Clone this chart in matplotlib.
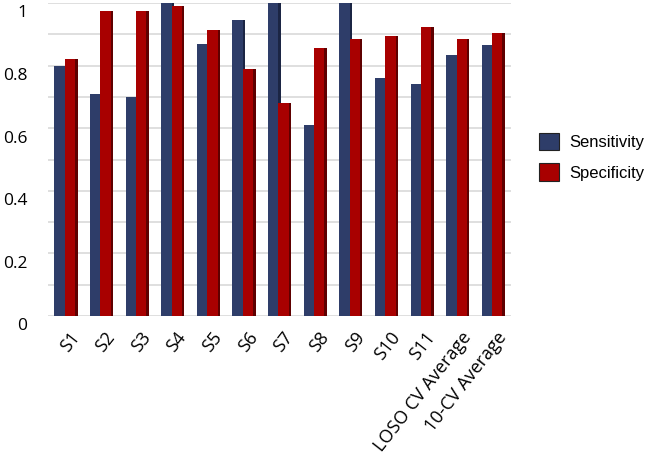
import matplotlib.pyplot as plt
import matplotlib.transforms as mtransforms
import numpy as np

# datos
categorias = ["S1", "S2", "S3", "S4", "S5", "S6", "S7", "S8", "S9", "S10", "S11",
              "LOSO CV Average", "10-CV Average"]
sensibilidad = [0.80, 0.71, 0.70, 1.00, 0.87, 0.945, 1.00, 0.61, 1.00, 0.76, 0.74, 0.835, 0.865]
especificidad = [0.82, 0.974, 0.974, 0.99, 0.915, 0.79, 0.68, 0.855, 0.885, 0.894, 0.923, 0.885, 0.904]

azul, azul_osc = "#2E3D69", "#1B2544"
rojo, rojo_osc = "#A80000", "#5E0000"

fig = plt.figure(figsize=(6.54, 4.65), dpi=100)
ax = fig.add_axes([48 / 654, (465 - 316) / 465, (511 - 48) / 654, 313 / 465])

x = np.arange(len(categorias))
w = 0.29
prof = 0.07  # "profundidad" falsa de las barras 3D

ax.bar(x - w / 2 + prof, sensibilidad, w, color=azul_osc, zorder=2)
ax.bar(x - w / 2, sensibilidad, w, color=azul, zorder=3)
ax.bar(x + w / 2 + prof, especificidad, w, color=rojo_osc, zorder=2)
ax.bar(x + w / 2, especificidad, w, color=rojo, zorder=3)

ax.set_xlim(-0.5 + 0.03, len(categorias) - 0.5 + 0.03)
ax.set_ylim(0, 1.0)
ax.set_yticks(np.arange(0, 1.01, 0.2))
ax.set_yticklabels(["0", "0.2", "0.4", "0.6", "0.8", "1"])
ax.set_yticks(np.arange(0, 1.01, 0.1), minor=True)
ax.grid(True, which="both", axis="y", color="#D9D9D9", linewidth=1.2, zorder=0)
ax.tick_params(axis="y", which="both", length=0, pad=15, labelsize=12.5)
for lab in ax.get_yticklabels():
    lab.set_fontfamily("Open Sans")
    lab.set_transform(lab.get_transform() + mtransforms.ScaledTranslation(0, -6 / 72, fig.dpi_scale_trans))

ax.set_xticks(x + 0.12)
ax.set_xticklabels(categorias, rotation=52, ha="right", rotation_mode="anchor",
                   fontfamily="Open Sans", fontsize=13)
ax.tick_params(axis="x", length=0, pad=9)

for s in ax.spines.values():
    s.set_visible(False)

# leyenda
h1 = plt.Rectangle((0, 0), 1, 1, facecolor=azul, edgecolor="#222222", linewidth=0.8)
h2 = plt.Rectangle((0, 0), 1, 1, facecolor=rojo, edgecolor="#222222", linewidth=0.8)
fig.legend([h1, h2], ["Sensitivity", "Specificity"], loc="upper left",
           bbox_to_anchor=(524 / 654, 1 - 118 / 465), frameon=False,
           prop={"family": "Liberation Sans", "size": 12},
           handlelength=1.2, handleheight=1.2, labelspacing=0.8, handletextpad=0.6)

fig.savefig("out.png", dpi=100)
